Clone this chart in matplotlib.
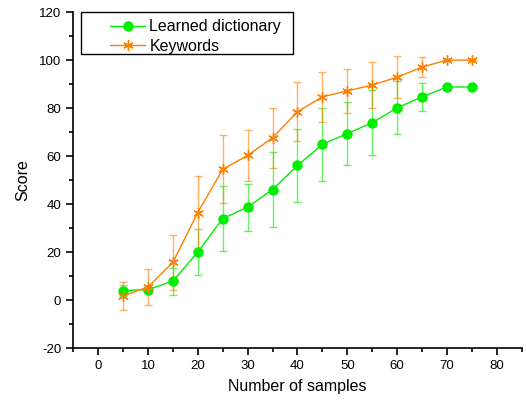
import numpy as np
import matplotlib.pyplot as plt
from matplotlib.ticker import MultipleLocator
from matplotlib.patches import Rectangle

plt.rcParams['font.family'] = ['Liberation Sans', 'DejaVu Sans']
plt.rcParams['axes.unicode_minus'] = False

samples = [5, 10, 15, 20, 25, 30, 35, 40, 45, 50, 55, 60, 65, 70, 75]

dict_score = [4.0, 4.4, 7.9, 20.0, 34.0, 38.7, 46.1, 56.1, 64.9, 69.4, 73.9, 80.1, 84.7, 88.8, 88.8]
dict_err = [2.2, 1.2, 5.7, 9.7, 13.5, 9.9, 15.7, 15.4, 15.3, 13.0, 13.5, 11.0, 5.9, 0, 0]

kw_score = [1.7, 5.5, 15.7, 36.5, 54.5, 60.3, 67.6, 78.5, 84.7, 87.2, 89.6, 92.9, 97.1, 100, 100]
kw_err = [5.8, 7.5, 11.3, 15.2, 14.2, 10.7, 12.5, 12.2, 10.4, 9.3, 9.6, 8.7, 4.3, 0, 0]

green = '#00ee00'
orange = '#ff8000'

fig = plt.figure(figsize=(5.26, 4.03), dpi=100)
ax = fig.add_axes([0.139, 0.136, 0.853, 0.834])

ax.errorbar(samples, dict_score, yerr=dict_err, fmt='none', ecolor=green,
            alpha=0.6, elinewidth=1.0, capsize=3, capthick=1.0)
ax.errorbar(samples, kw_score, yerr=kw_err, fmt='none', ecolor=orange,
            alpha=0.6, elinewidth=1.0, capsize=3, capthick=1.0)

ax.plot(samples, dict_score, color=green, lw=1, marker='o', markersize=6.5,
        label='Learned dictionary')
ax.plot(samples, kw_score, color=orange, lw=1, marker=(6, 2, 0), markersize=7.5,
        markeredgewidth=1, label='Keywords')

ax.set_xlim(-5, 85)
ax.set_ylim(-20, 120)
ax.xaxis.set_major_locator(MultipleLocator(10))
ax.xaxis.set_minor_locator(MultipleLocator(5))
ax.yaxis.set_major_locator(MultipleLocator(20))
ax.yaxis.set_minor_locator(MultipleLocator(10))

ax.spines['top'].set_visible(False)
ax.spines['right'].set_visible(False)
ax.spines['left'].set_linewidth(1.2)
ax.spines['bottom'].set_linewidth(1.2)
ax.tick_params(which='major', direction='out', length=5, width=1.2, labelsize=9.5)
ax.tick_params(which='minor', direction='out', length=3, width=1.2)

ax.set_xlabel('Number of samples', fontsize=11.5, labelpad=5)
ax.set_ylabel('Score', fontsize=11.5, labelpad=6)

# legend frame drawn separately (Origin-style box with wide left margin)
box = Rectangle((81 / 526, 1 - 54 / 403), 212 / 526, 42 / 403, transform=fig.transFigure,
                facecolor='white', edgecolor='black', lw=1, zorder=5)
fig.patches.append(box)
leg = fig.legend(loc='upper left', bbox_to_anchor=(107 / 526, 1 - 16 / 403), fontsize=11.5,
                 frameon=False, borderpad=0.2, handlelength=2.2, labelspacing=0.3,
                 borderaxespad=0.0, handletextpad=0.25)
leg.set_zorder(6)

fig.savefig('out.png', dpi=100)
